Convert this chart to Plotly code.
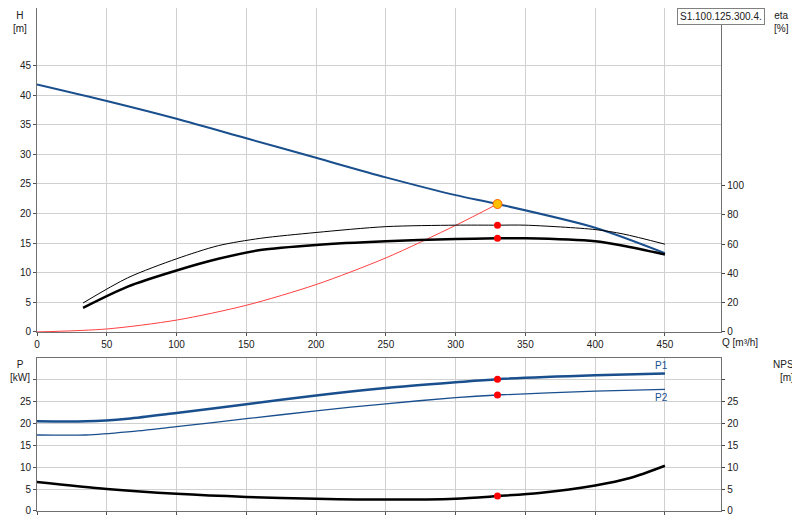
import plotly.graph_objects as go
from plotly.subplots import make_subplots

# head curve
q_h = [0, 50, 100, 150, 200, 250, 300, 330, 400, 450]
h = [41.8, 39.0, 36.0, 32.7, 29.4, 26.1, 23.1, 21.6, 17.6, 13.3]
# efficiency curves
q_eta = [33, 65, 100, 130, 160, 200, 250, 300, 330, 350, 400, 420, 450]
eta_hyd = [19.8, 37, 50, 59, 64, 68, 72, 73, 73, 73, 70, 67, 60]
eta_tot = [16.5, 31, 42, 50, 56, 59.5, 62, 63.5, 64, 64, 62, 59, 53]
# system curve
q_sys = [0, 50, 100, 150, 200, 250, 300, 330]
h_sys = [0, 0.5, 2.0, 4.5, 8.0, 12.5, 18.0, 21.6]
# power and npsh
q_p = [0, 35, 65, 100, 150, 200, 250, 300, 330, 400, 450]
p1 = [20.4, 20.4, 21.0, 22.3, 24.3, 26.3, 28.0, 29.3, 30.0, 30.9, 31.3]
p2 = [17.3, 17.3, 18.0, 19.2, 21.0, 22.8, 24.4, 25.8, 26.4, 27.3, 27.7]
q_npsh = [0, 50, 100, 150, 200, 250, 300, 330, 360, 400, 425, 450]
npsh = [6.6, 5.0, 3.9, 3.2, 2.8, 2.6, 2.8, 3.4, 4.1, 5.8, 7.5, 10.3]
q_duty = 330

blue = '#1a4f8e'
fig = make_subplots(rows=2, cols=1, specs=[[{'secondary_y': True}], [{'secondary_y': True}]])

def line(color, width):
    return dict(color=color, width=width, shape='spline', smoothing=0.8)

fig.add_trace(go.Scatter(x=q_sys, y=h_sys, mode='lines', line=line('#ff4040', 1)), 1, 1)
fig.add_trace(go.Scatter(x=q_h, y=h, mode='lines', line=line(blue, 2)), 1, 1)
fig.add_trace(go.Scatter(x=q_eta, y=eta_hyd, mode='lines', line=line('black', 1)), 1, 1, secondary_y=True)
fig.add_trace(go.Scatter(x=q_eta, y=eta_tot, mode='lines', line=line('black', 2.5)), 1, 1, secondary_y=True)
fig.add_trace(go.Scatter(x=[q_duty, q_duty], y=[eta_hyd[8], eta_tot[8]], mode='markers',
                         marker=dict(color='red', size=7)), 1, 1, secondary_y=True)
fig.add_trace(go.Scatter(x=[q_duty], y=[h[7]], mode='markers',
                         marker=dict(color='#ffc000', size=9, line=dict(color='#ff6000', width=1))), 1, 1)

fig.add_trace(go.Scatter(x=q_p, y=p1, mode='lines', line=line(blue, 2.5)), 2, 1)
fig.add_trace(go.Scatter(x=q_p, y=p2, mode='lines', line=line(blue, 1.3)), 2, 1)
fig.add_trace(go.Scatter(x=q_npsh, y=npsh, mode='lines', line=line('black', 2.5)), 2, 1, secondary_y=True)
fig.add_trace(go.Scatter(x=[q_duty] * 2, y=[p1[8], p2[8]], mode='markers',
                         marker=dict(color='red', size=7)), 2, 1)
fig.add_trace(go.Scatter(x=[q_duty], y=[npsh[7]], mode='markers',
                         marker=dict(color='red', size=7)), 2, 1, secondary_y=True)

ax = dict(showgrid=True, gridcolor='#d0d0d0', showline=True, linecolor='#707070', mirror=True,
          ticks='outside', ticklen=3, tickcolor='#505050', zeroline=False)
fig.update_xaxes(range=[0, 490.4], tickvals=[0, 50, 100, 150, 200, 250, 300, 350, 400, 450], **ax)
fig.update_xaxes(showticklabels=False, row=2, col=1)
fig.update_yaxes(range=[0, 54.7], tickvals=[0, 5, 10, 15, 20, 25, 30, 35, 40, 45], **ax, row=1, col=1, secondary_y=False)
fig.update_yaxes(range=[0, 221.5], tickvals=[0, 20, 40, 60, 80, 100], showgrid=False, showline=True,
                 linecolor='#707070', ticks='outside', ticklen=3, zeroline=False, row=1, col=1, secondary_y=True)
fig.update_yaxes(range=[0, 34.8], tickvals=[0, 5, 10, 15, 20, 25, 30], ticktext=['0', '5', '10', '15', '20', '25', ''],
                 **ax, row=2, col=1, secondary_y=False)
fig.update_yaxes(range=[0, 34.8], tickvals=[0, 5, 10, 15, 20, 25, 30], ticktext=['0', '5', '10', '15', '20', '25', ''],
                 showgrid=False, showline=True, linecolor='#707070', ticks='outside', ticklen=3, zeroline=False,
                 row=2, col=1, secondary_y=True)

anns = [
    dict(x=-0.023, y=1.0, text='H<br>[m]'), dict(x=1.023, y=1.0, text='eta<br>[%]'),
    dict(x=-0.023, y=0.306, text='P<br>[kW]'), dict(x=1.03, y=0.306, text='NPSH<br>[m]'),
]
for a in anns:
    fig.add_annotation(x=a['x'], y=a['y'], xref='paper', yref='paper', text=a['text'], showarrow=False,
                       xanchor='center', yanchor='top', font=dict(size=10, color='#202020'))
fig.add_annotation(x=0.965, y=0.35, xref='paper', yref='paper', text='Q [m³/h]', showarrow=False,
                   xanchor='center', yanchor='top', font=dict(size=10, color='#202020'))
fig.add_annotation(x=450, y=p1[-1], xref='x2', yref='y3', text='P1', showarrow=False, yshift=8, xshift=-3,
                   font=dict(size=10, color=blue))
fig.add_annotation(x=450, y=p2[-1], xref='x2', yref='y3', text='P2', showarrow=False, yshift=-8, xshift=-3,
                   font=dict(size=10, color=blue))
fig.add_annotation(x=1, y=1, xref='paper', yref='paper', text='S1.100.125.300.4.', showarrow=False,
                   xanchor='right', yanchor='top', bgcolor='white', bordercolor='#808080', borderwidth=1,
                   borderpad=2, font=dict(size=10, color='#202020'))

fig.update_layout(width=800, height=520, showlegend=False, plot_bgcolor='white', paper_bgcolor='white',
                  margin=dict(l=29, r=43, t=0, b=17), font=dict(family='Liberation Sans, Arial', size=10, color='#202020'))
fig.update_layout(yaxis=dict(domain=[0.356, 1]), yaxis2=dict(domain=[0.356, 1]),
                  yaxis3=dict(domain=[0, 0.304]), yaxis4=dict(domain=[0, 0.304]))
fig.write_html('out.html')
